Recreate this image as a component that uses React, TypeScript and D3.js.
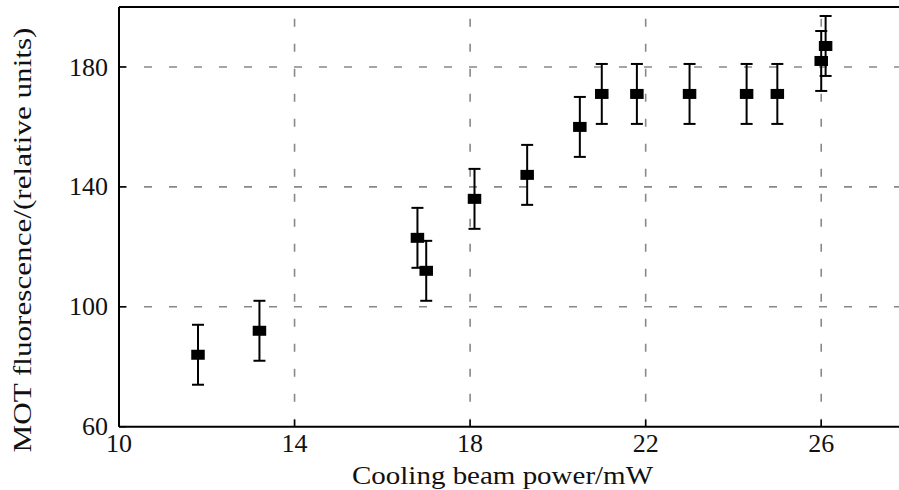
import React from "react";
import * as d3 from "d3";

const powerMW = [11.8, 13.2, 16.8, 17.0, 18.1, 19.3, 20.5, 21.0, 21.8, 23.0, 24.3, 25.0, 26.0, 26.1];
const fluorescence = [84, 92, 123, 112, 136, 144, 160, 171, 171, 171, 171, 171, 182, 187];
const errors = [10, 10, 10, 10, 10, 10, 10, 10, 10, 10, 10, 10, 10, 10];
const xTicks = [10, 14, 18, 22, 26];
const yTicks = [60, 100, 140, 180];
const xLabel = "Cooling beam power/mW";
const yLabel = "MOT fluorescence/(relative units)";

const W = 899;
const H = 490;
const left = 119;
const right = 909;
const top = 7;
const bottom = 426.7;
const FONT = "'Liberation Serif', 'Times New Roman', serif";

export default function App() {
  const x = d3.scaleLinear().domain([10, 28]).range([left, right]);
  const y = d3.scaleLinear().domain([60, 200]).range([bottom, top]);
  const capW = 12;
  const mW = 13.5;
  const mH = 10;

  return (
    <svg
      width={W}
      height={H}
      style={{ position: "absolute", left: 0, top: 0, background: "#fff" }}
      fontFamily={FONT}
    >
      <rect x={0} y={0} width={W} height={H} fill="#fff" />
      {/* grid */}
      <g stroke="#888" strokeWidth={1.6} strokeDasharray="8 17" fill="none">
        {xTicks.slice(1).map((t) => (
          <line key={"gx" + t} x1={x(t)} x2={x(t)} y1={bottom} y2={top} />
        ))}
        {yTicks.slice(1).map((t) => (
          <line key={"gy" + t} x1={left} x2={right} y1={y(t)} y2={y(t)} />
        ))}
      </g>
      {/* spines */}
      <g stroke="#000" strokeWidth={2} fill="none">
        <line x1={left} x2={right} y1={bottom} y2={bottom} />
        <line x1={left} x2={right} y1={top} y2={top} />
        <line x1={left} x2={left} y1={top} y2={bottom} />
      </g>
      {/* ticks */}
      <g stroke="#000" strokeWidth={1.5}>
        {xTicks.map((t) => (
          <line key={"tx" + t} x1={x(t)} x2={x(t)} y1={bottom} y2={bottom - 7} />
        ))}
        {yTicks.map((t) => (
          <line key={"ty" + t} x1={left} x2={left + 7} y1={y(t)} y2={y(t)} />
        ))}
      </g>
      {/* tick labels */}
      <g fontSize={26} fill="#111">
        {xTicks.map((t) => (
          <text key={"lx" + t} x={x(t)} y={452} textAnchor="middle">
            {t}
          </text>
        ))}
        {yTicks.map((t) => (
          <text key={"ly" + t} x={108} y={y(t)} dy="0.33em" textAnchor="end">
            {t}
          </text>
        ))}
      </g>
      {/* data with error bars */}
      <g>
        {powerMW.map((p, i) => {
          const cx = x(p);
          const cy = y(fluorescence[i]);
          const yt = y(fluorescence[i] + errors[i]);
          const yb = y(fluorescence[i] - errors[i]);
          return (
            <g key={"pt" + i}>
              <g stroke="#000" strokeWidth={2}>
                <line x1={cx} x2={cx} y1={yt} y2={yb} />
                <line x1={cx - capW / 2} x2={cx + capW / 2} y1={yt} y2={yt} />
                <line x1={cx - capW / 2} x2={cx + capW / 2} y1={yb} y2={yb} />
              </g>
              <rect x={cx - mW / 2} y={cy - mH / 2} width={mW} height={mH} fill="#000" />
            </g>
          );
        })}
      </g>
      {/* axis labels */}
      <text
        x={502.5}
        y={484}
        textAnchor="middle"
        fontSize={26}
        fill="#111"
        textLength={301}
        lengthAdjust="spacingAndGlyphs"
      >
        {xLabel}
      </text>
      <text
        transform={`translate(31,240) rotate(-90)`}
        textAnchor="middle"
        fontSize={26}
        fill="#111"
        textLength={425}
        lengthAdjust="spacingAndGlyphs"
      >
        {yLabel}
      </text>
    </svg>
  );
}
